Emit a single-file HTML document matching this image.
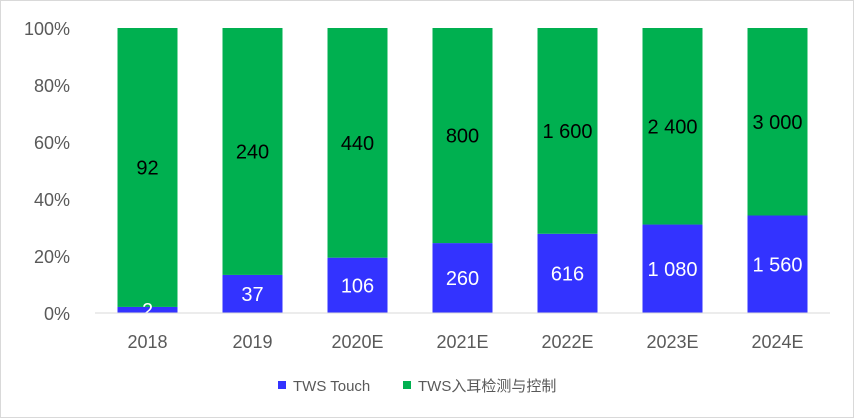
<!DOCTYPE html>
<html><head><meta charset="utf-8"><style>
html,body{margin:0;padding:0;background:#fff}
svg{display:block;font-family:"Liberation Sans","Noto Sans CJK SC",sans-serif}
</style></head><body>
<svg id="chart" width="854" height="418">
<rect x="0.5" y="0.5" width="853" height="417" fill="#fff" stroke="#d9d9d9"/>
<g id="yaxis"></g>
<g id="bars"></g>
<g id="xaxis"></g>
<g>
<g>
<rect x="278" y="381" width="8" height="8" fill="#3333ff"/>
<text x="293" y="391" font-size="15" fill="#595959">TWS Touch</text></g>
<g>
<rect x="403" y="381" width="8" height="8" fill="#00b050"/>
<text x="418" y="391" font-size="15" fill="#595959">TWS入耳检测与控制</text></g>
</g>
</svg>
<script>
const categories=["2018","2019","2020E","2021E","2022E","2023E","2024E"];
const touchValues=[2,37,106,260,616,1080,1560];
const inEarValues=[92,240,440,800,1600,2400,3000];
const yTicks=[0,20,40,60,80,100];
const NS="http://www.w3.org/2000/svg";
const x0=95,step=105,barW=60,yBottom=313,yTop=28;
const xC=i=>x0+step*(i+0.5)-(0);
const yP=p=>yBottom-(yBottom-yTop)*p/100;
const fmt=v=>String(v).replace(/\B(?=(\d{3})+(?!\d))/g," ");
function el(tag,attrs,parent,txt){const e=document.createElementNS(NS,tag);for(const k in attrs)e.setAttribute(k,attrs[k]);if(txt!==undefined)e.textContent=txt;parent.appendChild(e);return e;}
const ya=document.getElementById("yaxis"),bg=document.getElementById("bars"),xa=document.getElementById("xaxis");
yTicks.forEach(t=>{const e=el("text",{x:70,y:yP(t)+7,"font-size":18,fill:"#595959","text-anchor":"end"},ya,t+"%");

});
const base=el("line",{x1:x0,x2:x0+step*7,y1:yBottom,y2:yBottom,stroke:"#d9d9d9"},xa);


categories.forEach((c,i)=>{
 const tot=touchValues[i]+inEarValues[i];const pT=touchValues[i]/tot*100;
 const cx=x0+step*i+step/2;
 const b=el("rect",{x:cx-barW/2,y:yP(pT),width:barW,height:yBottom-yP(pT),fill:"#3333ff"},bg);
 
 
 const g=el("rect",{x:cx-barW/2,y:yP(100),width:barW,height:yP(pT)-yP(100),fill:"#00b050"},bg);
 
 
 const lt=el("text",{x:cx,y:yP(pT/2)+7,"font-size":20,fill:"#fff","text-anchor":"middle"},bg,fmt(touchValues[i]));
 
 
 const lg=el("text",{x:cx,y:yP((pT+100)/2)+7,"font-size":20,fill:"#000","text-anchor":"middle"},bg,fmt(inEarValues[i]));
 
 
 const xl=el("text",{x:cx,y:348,"font-size":18,fill:"#595959","text-anchor":"middle"},xa,c);
 
 
});
</script>
</body></html>
